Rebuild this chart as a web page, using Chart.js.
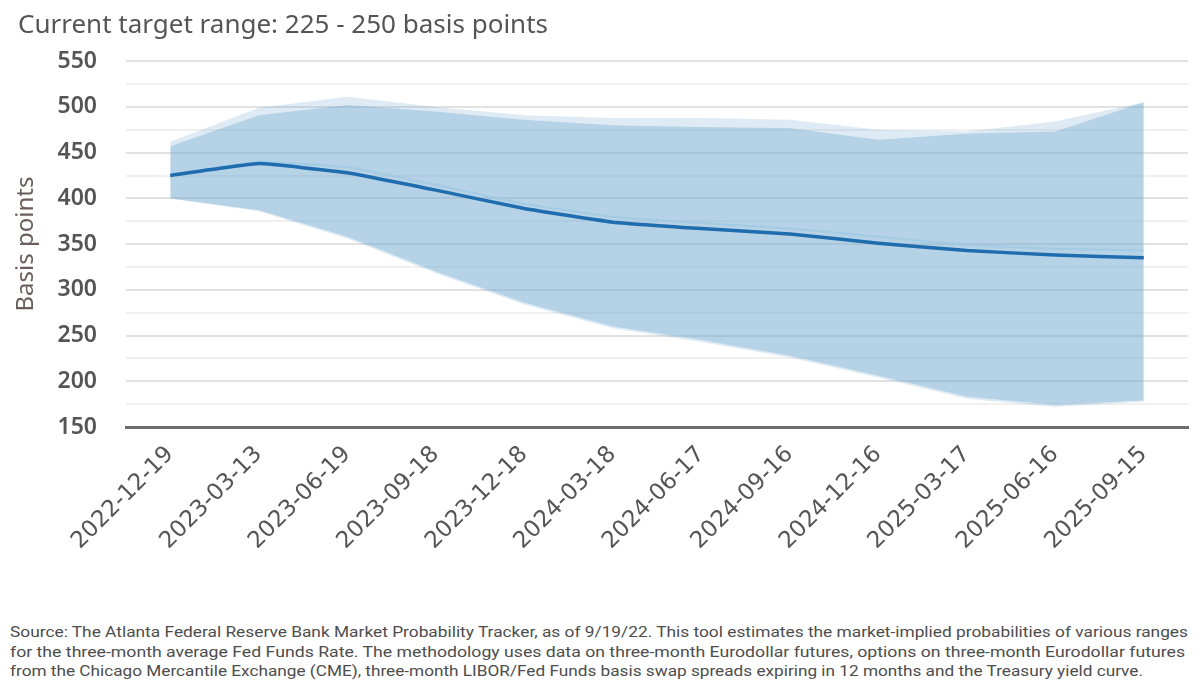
<!DOCTYPE html>
<html>
<head>
<meta charset="utf-8">
<script src="https://cdn.jsdelivr.net/npm/chart.js@4.4.1/dist/chart.umd.min.js"></script>
<style>
  html, body { margin: 0; padding: 0; background: #fff; }
  #wrap { position: relative; width: 1200px; height: 600px; }
  #note {
    position: absolute; left: 10px; top: 623px;
    font-family: Roboto, "Noto Sans", sans-serif; font-size: 15px; line-height: 19.5px;
    color: #4d4d4d; white-space: nowrap;
  }
  #note div { transform-origin: 0 0; display: inline-block; }
</style>
</head>
<body>
<div id="wrap"><canvas id="chart"></canvas></div>
<div id="note">
  <div>Source: The Atlanta Federal Reserve Bank Market Probability Tracker, as of 9/19/22. This tool estimates the market-implied probabilities of various ranges</div><br>
  <div>for the three-month average Fed Funds Rate. The methodology uses data on three-month Eurodollar futures, options on three-month Eurodollar futures</div><br>
  <div>from the Chicago Mercantile Exchange (CME), three-month LIBOR/Fed Funds basis swap spreads expiring in 12 months and the Treasury yield curve.</div>
</div>
<script>
// Datas das reuniões (eixo X)
const meetingDates = ['2022-12-19', '2023-03-13', '2023-06-19', '2023-09-18', '2023-12-18', '2024-03-18',
                      '2024-06-17', '2024-09-16', '2024-12-16', '2025-03-17', '2025-06-16', '2025-09-15'];

// Mediana e média esperadas (basis points)
const medianRate = [425, 438, 428, 409, 389, 374, 367, 361, 351, 343, 338, 335];
const meanRate   = [426, 440, 434, 415, 394, 380, 373, 367, 358, 349, 345, 343];

// Faixas de probabilidade (limites superior / inferior)
const outerUpper = [462, 499, 511, 500, 491, 488, 488, 486, 475, 473, 484, 505];
const innerUpper = [457, 491, 502, 495, 486, 480, 478, 477, 464, 471, 473, 505];
const innerLower = [400, 387, 358, 320, 286, 260, 245, 228, 206, 183, 174, 179];
const outerLower = [400, 386, 356, 318, 284, 258, 243, 226, 204, 181, 172, 178];

const yMin = 150, yMax = 550, yStep = 25;

const fontFamily = '"Noto Sans", "Open Sans", sans-serif';
const textColor = '#555555';
const bandDark = 'rgba(107, 165, 205, 0.50)';
const bandPale = 'rgba(107, 165, 205, 0.22)';

const band = (data, fill, color) => ({
  data, fill, backgroundColor: color,
  borderWidth: 0, pointRadius: 0, tension: 0
});

new Chart(document.getElementById('chart').getContext('2d'), {
  type: 'line',
  data: {
    labels: meetingDates,
    datasets: [
      { label: 'Median', data: medianRate, borderColor: '#1f6cae', borderWidth: 3.5,
        pointRadius: 0, fill: false, tension: 0.1 },
      { label: 'Mean', data: meanRate, borderColor: 'rgba(160, 202, 228, 0.85)', borderWidth: 2,
        pointRadius: 0, fill: false, tension: 0.1 },
      band(outerUpper, 3, bandPale),
      band(innerUpper, 4, bandDark),
      band(innerLower, 5, bandPale),
      band(outerLower, false, 'transparent')
    ]
  },
  options: {
    responsive: true,
    maintainAspectRatio: false,
    animation: false,
    layout: { padding: { left: 18, right: 12, top: 0, bottom: 0 } },
    plugins: {
      legend: { display: false },
      tooltip: { enabled: false },
      title: {
        display: true,
        text: 'Current target range: 225 - 250 basis points',
        align: 'start',
        color: textColor,
        font: { family: fontFamily, size: 26, weight: 'normal' },
        padding: { top: 10, bottom: 20 }
      }
    },
    scales: {
      x: {
        offset: true,
        grid: { display: false, drawTicks: false },
        border: { display: true, color: '#6e6e6e', width: 3 },
        ticks: {
          color: textColor,
          font: { family: '"DejaVu Sans", sans-serif', size: 23 },
          maxRotation: 45, minRotation: 45,
          padding: 14, autoSkip: false
        },
        afterFit: (scale) => { scale.height = 173; }
      },
      y: {
        min: yMin, max: yMax,
        grid: {
          drawTicks: false,
          color: (ctx) => ctx.tick && ctx.tick.value % 50 === 0 ? '#e2e2e2' : '#f0f0f0',
          lineWidth: 2
        },
        border: { display: false },
        ticks: {
          stepSize: yStep, autoSkip: false,
          color: textColor,
          font: { family: fontFamily, size: 23, weight: '600' },
          padding: 29,
          callback: (v) => v % 50 === 0 ? v : ''
        },
        title: {
          display: true, text: 'Basis points', color: '#6a5f5c',
          font: { family: fontFamily, size: 24 },
          padding: { top: -6, bottom: 0 }
        },
        afterFit: (scale) => { scale.width = 108; }
      }
    }
  }
});

// nota de rodapé: ajusta cada linha à largura da original
const noteWidths = [1178, 1175, 1133];
document.querySelectorAll('#note div').forEach((el, i) => {
  const w = el.getBoundingClientRect().width;
  el.style.transform = `scaleX(${noteWidths[i] / w})`;
});
</script>
</body>
</html>
